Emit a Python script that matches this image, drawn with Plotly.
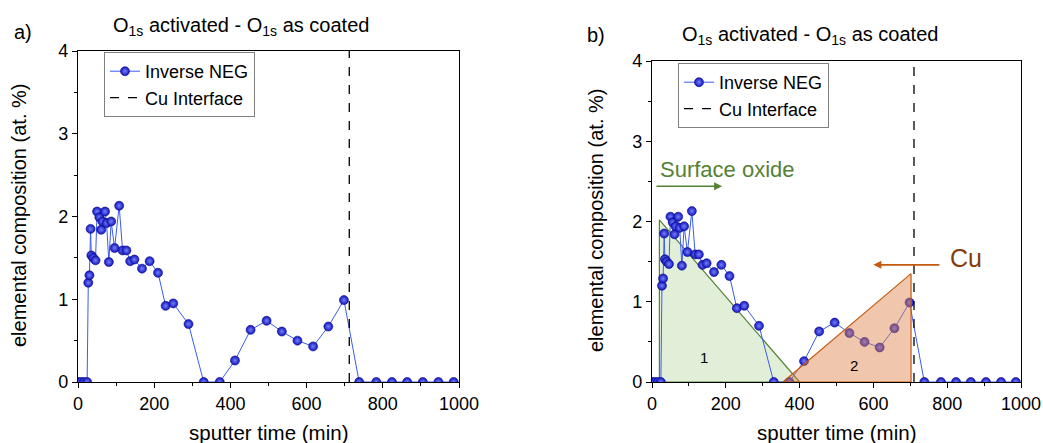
import plotly.graph_objects as go

# ---- data ----
sputter_time = [0, 8, 16, 24, 27, 30, 33, 35, 40, 46, 50, 56, 61, 64, 71, 75, 81, 87, 96, 108,
                117, 127, 137, 148, 168, 188, 210, 230, 250, 290, 330, 372, 412, 453, 495, 535,
                576, 617, 657, 698, 738, 783, 824, 864, 905, 946, 986]
oxygen_diff = [0, 0, 0, 0, 1.20, 1.29, 1.85, 1.53, 1.50, 1.47, 2.06, 1.99, 1.84, 1.94, 2.06, 1.92,
               1.45, 1.94, 1.62, 2.13, 1.59, 1.59, 1.46, 1.48, 1.37, 1.46, 1.32, 0.92, 0.95, 0.70,
               0, 0, 0.26, 0.63, 0.74, 0.61, 0.50, 0.43, 0.67, 0.99, 0, 0, 0, 0, 0, 0, 0]
cu_interface_x = 712
cu_interface_y = [0, 4]
oxide_tri_x = [20, 20, 400, 20]
oxide_tri_y = [0, 2.02, 0, 0]
cu_tri_x = [355, 702, 702, 355]
cu_tri_y = [0, 1.35, 0, 0]
series_name = "Inverse NEG"
interface_name = "Cu Interface"
title_text = "O<sub>1s</sub> activated - O<sub>1s</sub> as coated"
x_title = "sputter time (min)"
y_title = "elemental composition (at. %)"
x_ticks = [0, 200, 400, 600, 800, 1000]
y_ticks = [0, 1, 2, 3, 4]

W, H = 1043, 443
FONT = "Liberation Sans, Arial, sans-serif"

def px_x(p):
    return p / W

def px_y(p):
    return 1 - p / H

fig = go.Figure()

marker = dict(size=9, color="#1414c0", line=dict(color="#0a0a88", width=0.6),
              gradient=dict(type="radial", color="#7482f8"))
line = dict(color="#3a5cf0", width=1)

# Panel a
fig.add_trace(go.Scatter(x=sputter_time, y=oxygen_diff, mode="lines+markers", name=series_name,
                         marker=marker, line=line, xaxis="x", yaxis="y", legend="legend"))
fig.add_trace(go.Scatter(x=[cu_interface_x, cu_interface_x], y=cu_interface_y, mode="lines",
                         name=interface_name, line=dict(color="black", width=1.3, dash="dash"),
                         xaxis="x", yaxis="y", legend="legend"))

# Panel b
fig.add_trace(go.Scatter(x=oxide_tri_x, y=oxide_tri_y, fill="toself", mode="lines",
                         fillcolor="rgba(169,209,142,0.35)", line=dict(color="#548235", width=1.2),
                         showlegend=False, hoverinfo="skip", xaxis="x2", yaxis="y2"))
fig.add_trace(go.Scatter(x=sputter_time, y=oxygen_diff, mode="lines+markers", name=series_name,
                         marker=marker, line=line, xaxis="x2", yaxis="y2", legend="legend2"))
fig.add_trace(go.Scatter(x=cu_tri_x, y=cu_tri_y, fill="toself", mode="lines",
                         fillcolor="rgba(222,130,70,0.45)", line=dict(color="#c55a11", width=1.2),
                         showlegend=False, hoverinfo="skip", xaxis="x2", yaxis="y2"))
fig.add_trace(go.Scatter(x=[cu_interface_x - 2, cu_interface_x - 2], y=cu_interface_y, mode="lines",
                         name=interface_name, line=dict(color="black", width=1.3, dash="dash"),
                         xaxis="x2", yaxis="y2", legend="legend2"))

axis_common = dict(showline=True, linecolor="black", linewidth=1.3, mirror=True, ticks="outside",
                   ticklen=5, tickwidth=1.2, tickcolor="black", showgrid=False, zeroline=False,
                   automargin=False, tickfont=dict(family=FONT, size=18, color="black"))
minor = dict(ticks="outside", ticklen=3, tickwidth=1.0, tickcolor="black", showgrid=False)

legend_common = dict(xanchor="left", yanchor="top", bordercolor="#808080", borderwidth=1,
                     bgcolor="white", font=dict(family=FONT, size=18, color="black"),
                     tracegroupgap=0, itemwidth=30)

fig.update_layout(
    width=W, height=H, margin=dict(l=0, r=0, t=0, b=0, autoexpand=False),
    paper_bgcolor="white", plot_bgcolor="white",
    font=dict(family=FONT, color="black"),
    xaxis=dict(domain=[px_x(78), px_x(459)], range=[0, 1000], tickvals=x_ticks,
               minor=dict(dtick=100, **minor), anchor="y", **axis_common),
    yaxis=dict(domain=[px_y(382), px_y(51)], range=[0, 4], tickvals=y_ticks,
               minor=dict(dtick=0.5, **minor), anchor="x", **axis_common),
    xaxis2=dict(domain=[px_x(652), px_x(1021)], range=[0, 1000], tickvals=x_ticks,
                minor=dict(dtick=100, **minor), anchor="y2", **axis_common),
    yaxis2=dict(domain=[px_y(382), px_y(61)], range=[0, 4], tickvals=y_ticks,
                minor=dict(dtick=0.5, **minor), anchor="x2", **axis_common),
    legend=dict(x=px_x(104), y=px_y(52), **legend_common),
    legend2=dict(x=px_x(678), y=px_y(63), **legend_common),
    showlegend=True,
)

ann = []
ann.append(dict(text="a)", x=px_x(12), y=px_y(32), xref="paper", yref="paper", xanchor="left",
                yanchor="middle", showarrow=False, font=dict(size=20)))
ann.append(dict(text="b)", x=px_x(585), y=px_y(35), xref="paper", yref="paper", xanchor="left",
                yanchor="middle", showarrow=False, font=dict(size=20)))
ann.append(dict(text=title_text, x=px_x(241), y=px_y(26), xref="paper", yref="paper",
                xanchor="center", yanchor="middle", showarrow=False, font=dict(size=20)))
ann.append(dict(text=title_text, x=px_x(810), y=px_y(35), xref="paper", yref="paper",
                xanchor="center", yanchor="middle", showarrow=False, font=dict(size=20)))
for cx in (268, 836):
    ann.append(dict(text=x_title, x=px_x(cx), y=px_y(432), xref="paper", yref="paper",
                    xanchor="center", yanchor="middle", showarrow=False, font=dict(size=20.5)))
ann.append(dict(text=y_title, x=px_x(19), y=px_y(216), xref="paper", yref="paper", textangle=-90,
                xanchor="center", yanchor="middle", showarrow=False, font=dict(size=20)))
ann.append(dict(text=y_title, x=px_x(596), y=px_y(221), xref="paper", yref="paper", textangle=-90,
                xanchor="center", yanchor="middle", showarrow=False, font=dict(size=20)))
# Panel b annotations
ann.append(dict(text="Surface oxide", x=16, y=2.65, xref="x2", yref="y2", xanchor="left",
                yanchor="middle", showarrow=False, font=dict(size=22, color="#548235")))
ann.append(dict(x=190, y=2.44, ax=8, ay=2.44, xref="x2", yref="y2", axref="x2", ayref="y2",
                showarrow=True, arrowhead=2, arrowsize=1, arrowwidth=1.6, arrowcolor="#548235", text=""))
ann.append(dict(text="Cu", x=852, y=1.54, xref="x2", yref="y2", xanchor="center", yanchor="middle",
                showarrow=False, font=dict(size=25, color="#843c0c")))
ann.append(dict(x=600, y=1.46, ax=783, ay=1.46, xref="x2", yref="y2", axref="x2", ayref="y2",
                showarrow=True, arrowhead=2, arrowsize=1, arrowwidth=1.6, arrowcolor="#c55a11", text=""))
ann.append(dict(text="1", x=141, y=0.30, xref="x2", yref="y2", showarrow=False, font=dict(size=15)))
ann.append(dict(text="2", x=547, y=0.21, xref="x2", yref="y2", showarrow=False, font=dict(size=15)))
fig.update_layout(annotations=ann)

# remove the browser's default 8px body margin so the figure fills the window exactly
fig.write_html("out.html", config={"displayModeBar": False},
               post_script="document.body.style.margin='0';document.body.style.overflow='hidden';")
